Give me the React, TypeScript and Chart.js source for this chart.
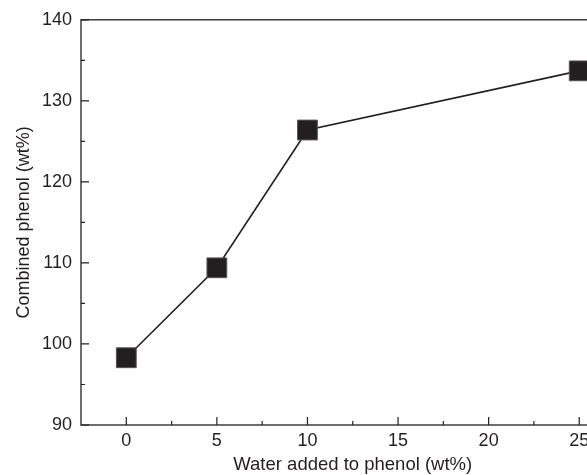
import { useEffect, useRef } from 'react';
import { Chart, registerables } from 'chart.js';

Chart.register(...registerables);

const waterAdded = [0, 5, 10, 25];
const combinedPhenol = [98.3, 109.4, 126.4, 133.7];
const xMajorTicks = [0, 5, 10, 15, 20, 25];
const xMinorTicks = [2.5, 7.5, 12.5, 17.5, 22.5, 27.5];
const yMajorTicks = [90, 100, 110, 120, 130, 140];
const yMinorTicks = [95, 105, 115, 125, 135];
const xTitle = 'Water added to phenol (wt%)';
const yTitle = 'Combined phenol (wt%)';

const INK = '#231f20';
const FONT = '"Liberation Sans", Arial, Helvetica, sans-serif';

const framePlugin = {
  id: 'frameTicks',
  afterDatasetsDraw(chart: any) {
    const { ctx, chartArea, scales } = chart;
    const { left, right, top, bottom } = chartArea;
    ctx.save();
    ctx.strokeStyle = INK;
    ctx.lineWidth = 1.3;
    ctx.strokeRect(left, top, right - left, bottom - top);
    ctx.lineWidth = 1.2;
    ctx.beginPath();
    for (const v of xMajorTicks) {
      const px = scales.x.getPixelForValue(v);
      ctx.moveTo(px, bottom);
      ctx.lineTo(px, bottom - 8);
    }
    for (const v of xMinorTicks) {
      const px = scales.x.getPixelForValue(v);
      ctx.moveTo(px, bottom);
      ctx.lineTo(px, bottom - 4);
    }
    for (const v of yMajorTicks) {
      const py = scales.y.getPixelForValue(v);
      ctx.moveTo(left, py);
      ctx.lineTo(left + 8, py);
    }
    for (const v of yMinorTicks) {
      const py = scales.y.getPixelForValue(v);
      ctx.moveTo(left, py);
      ctx.lineTo(left + 4, py);
    }
    ctx.stroke();
    ctx.restore();
  },
};

export default function App() {
  const ref = useRef<HTMLCanvasElement>(null);
  useEffect(() => {
    const chart = new Chart(ref.current as HTMLCanvasElement, {
      type: 'line',
      data: {
        datasets: [
          {
            data: waterAdded.map((x, i) => ({ x, y: combinedPhenol[i] })),
            borderColor: INK,
            borderWidth: 1.6,
            pointStyle: 'rect',
            pointRadius: 14,
            pointBackgroundColor: INK,
            pointBorderColor: '#555',
            pointBorderWidth: 1,
            tension: 0,
            fill: false,
          },
        ],
      },
      options: {
        responsive: false,
        animation: false,
        devicePixelRatio: 1,
        layout: { padding: { top: 17, right: 15.5, left: 0, bottom: 0 } },
        plugins: { legend: { display: false }, tooltip: { enabled: false } },
        scales: {
          x: {
            type: 'linear',
            min: -2.5,
            max: 27.5,
            afterBuildTicks: (s: any) => {
              s.ticks = xMajorTicks.map((v) => ({ value: v }));
            },
            afterFit: (s: any) => {
              s.height = 50;
            },
            grid: { display: false, drawTicks: false, tickLength: 0 },
            border: { display: false },
            ticks: {
              color: INK,
              font: { family: FONT, size: 18 },
              padding: 5,
              maxRotation: 0,
              autoSkip: false,
            },
            title: {
              display: true,
              text: xTitle,
              color: INK,
              font: { family: FONT, size: 18.5 },
              padding: { top: 0, bottom: -1 },
            },
          },
          y: {
            type: 'linear',
            min: 90,
            max: 140,
            afterBuildTicks: (s: any) => {
              s.ticks = yMajorTicks.map((v) => ({ value: v }));
            },
            afterFit: (s: any) => {
              s.width = 81;
            },
            grid: { display: false, drawTicks: false, tickLength: 0 },
            border: { display: false },
            ticks: {
              color: INK,
              font: { family: FONT, size: 18 },
              padding: 9,
              autoSkip: false,
            },
            title: {
              display: true,
              text: yTitle,
              color: INK,
              font: { family: FONT, size: 18 },
              padding: { top: 13, bottom: 0 },
            },
          },
        },
      },
      plugins: [framePlugin],
    });
    return () => chart.destroy();
  }, []);
  return (
    <div
      style={{
        position: 'fixed',
        left: 0,
        top: 0,
        width: 640,
        height: 475,
        overflow: 'hidden',
        background: '#fff',
      }}
    >
      <canvas ref={ref} width={640} height={475} style={{ display: 'block' }} />
    </div>
  );
}
